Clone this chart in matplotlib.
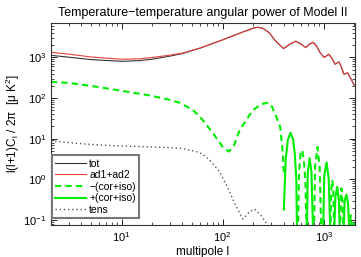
import numpy as np
import matplotlib
matplotlib.use("Agg")
import matplotlib.pyplot as plt

plt.rcParams['font.family'] = ['Liberation Sans', 'DejaVu Sans']
plt.rcParams['mathtext.fontset'] = 'custom'
plt.rcParams['mathtext.rm'] = 'Liberation Sans'

# ad1+ad2 and tot
ell_ad = [2, 3, 5, 10, 15, 20, 30, 40, 60, 100, 150, 200, 222, 250, 290, 330, 400,
          460, 528, 600, 663, 720, 784, 850, 920, 1010, 1120, 1200, 1290, 1415, 1500,
          1580, 1720, 1850, 2000]
ad12 = [1330, 1200, 1020, 900, 920, 990, 1130, 1270, 1700, 2700, 4000, 5200, 5500,
        5200, 4000, 2600, 1640, 2100, 2500, 2100, 1740, 2100, 2350, 1900, 1300, 990,
        1190, 960, 680, 770, 560, 385, 414, 300, 207]
tot = [1120, 1010, 880, 800, 830, 900, 1070, 1240, 1690, 2700, 4000, 5200, 5500,
       5200, 4000, 2600, 1640, 2100, 2500, 2100, 1740, 2100, 2350, 1900, 1300, 990,
       1190, 960, 680, 770, 560, 385, 414, 300, 207]

# cor+iso (signed)
ell_cor = [2, 3, 6, 10, 18.5, 30, 37.5, 50, 59, 80, 100, 115, 130, 147, 198, 240, 273,
           300, 343, 370, 395, 403,
           403, 420, 440, 468, 495, 516, 535, 544,
           555, 570, 590, 611, 635, 660, 673,
           680, 695, 725, 755, 784,
           800, 820, 867, 910, 945,
           985, 1010, 1066, 1120, 1160,
           1165, 1185, 1215, 1245, 1265,
           1270, 1300, 1360, 1410, 1440,
           1445, 1470, 1495, 1530, 1560,
           1570, 1610, 1675, 1740, 1790,
           1800, 1840, 1880, 1900,
           1920, 1960, 2000]
cor_iso = [-250, -235, -185, -150, -117, -90, -76, -52, -36, -13.7, -6.3, -4.8, -7, -16,
           -50, -70, -76, -70, -32, -20, -4, -1.2,
           0.18, 3, 9, 14, 10, 4.4, 1, 0.05,
           -0.05, -1.5, -4.5, -5.2, -3, -0.8, -0.05,
           0.05, 1.5, 3.3, 1.5, 0.05,
           -0.05, -2, -6.2, -2, -0.05,
           0.05, 1.2, 2.6, 1.0, 0.05,
           -0.05, -0.5, -0.95, -0.5, -0.05,
           0.05, 0.35, 0.65, 0.3, 0.05,
           -0.05, -0.35, -0.6, -0.3, -0.05,
           0.05, 0.3, 0.42, 0.25, 0.05,
           -0.03, -0.13, -0.08, -0.03,
           0.03, 0.08, 0.08]

# tensor contribution
ell_tens = [2, 4, 6, 10, 18, 30, 40, 55, 63, 74, 93, 113, 131, 147, 159, 185, 207,
            241, 270, 300]
tens = [8.8, 7.5, 7.0, 6.6, 6.3, 6.0, 5.7, 4.8, 4.2, 3.0, 1.55, 0.6, 0.26, 0.147,
        0.105, 0.16, 0.184, 0.126, 0.083, 0.05]

cor_iso = np.array(cor_iso, dtype=float)
neg = np.where(cor_iso < 0, -cor_iso, np.nan)
pos = np.where(cor_iso > 0, cor_iso, np.nan)

fig = plt.figure(figsize=(3.61, 2.57), dpi=100)
ax = fig.add_axes([0.141, 0.1245, 0.842, 0.786])

green = '#00ee00'
ax.plot(ell_ad, tot, color='#333333', lw=0.8, label='tot')
ax.plot(ell_ad, ad12, color='#e84040', lw=0.8, label='ad1+ad2')
ax.plot(ell_cor, neg, color=green, lw=1.5, linestyle=(0, (3, 2)), label='\u2212(cor+iso)')
ax.plot(ell_cor, pos, color=green, lw=1.5, label='+(cor+iso)')
ax.plot(ell_tens, tens, color='#555555', lw=1.0, linestyle=(0, (1, 2)), label='tens')

ax.set_xscale('log')
ax.set_yscale('log')
ax.set_xlim(2, 2030)
ax.set_ylim(0.075, 7000)

ax.tick_params(which='both', direction='in', top=True, right=True, labelsize=8)
ax.tick_params(which='major', length=4, width=0.6)
ax.tick_params(which='minor', length=2, width=0.5)
for s in ax.spines.values():
    s.set_linewidth(0.8)
    s.set_color('#333333')

ax.set_title('Temperature\u2212temperature angular power of Model II', fontsize=9, pad=5)
ax.set_xlabel('multipole l', fontsize=8.5, labelpad=2)
ax.set_ylabel('l(l+1)C$_\\mathrm{l}$ / 2\u03c0  [\u03bc K$^2$]', fontsize=8.5, labelpad=1)

leg = ax.legend(loc='lower left', bbox_to_anchor=(0.003, 0.035), fontsize=7.5,
                frameon=True, fancybox=False, framealpha=1, edgecolor='#777777',
                handlelength=3, handletextpad=0.3, labelspacing=0.15,
                borderpad=0.3, borderaxespad=0)
leg.get_frame().set_linewidth(1.5)

fig.savefig('out.png', dpi=100)
